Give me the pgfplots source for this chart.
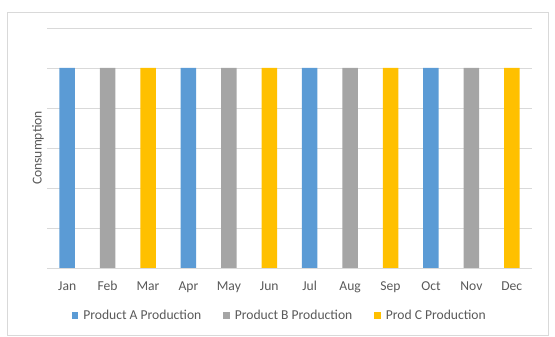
\documentclass[border=0pt]{standalone}
\usepackage{pgfplots}
\pgfplotsset{compat=1.18}
\usepackage{fontspec}
\setmainfont{Carlito}
\definecolor{cA}{HTML}{5B9BD5}
\definecolor{cB}{HTML}{A5A5A5}
\definecolor{cC}{HTML}{FFC000}
\definecolor{gridc}{HTML}{D9D9D9}
\definecolor{txt}{HTML}{595959}
\begin{document}
\begin{tikzpicture}[x=1pt,y=1pt]
\useasboundingbox (0,0) rectangle (555,337);
\draw[gridc, line width=0.8pt] (7,2) rectangle (548,325);
\begin{axis}[
  at={(47pt,69pt)}, anchor=south west,
  scale only axis, width=485pt, height=240pt,
  font=\fontsize{13.6}{16}\selectfont\color{txt},
  xmin=-0.5, xmax=11.5, ymin=0, ymax=6,
  ybar, bar width=15.5pt, bar shift=0pt,
  axis line style={draw=none},
  xtick={0,...,11},
  xticklabels={Jan,Feb,Mar,Apr,May,Jun,Jul,Aug,Sep,Oct,Nov,Dec},
  xticklabel style={yshift=-10pt},
  ytick={0,1,...,6}, yticklabels={},
  major tick length=0pt,
  xmajorgrids=false, ymajorgrids=true,
  y grid style={draw=gridc, line width=0.8pt},
  ylabel={Consumption},
  every axis y label/.style={at={(axis description cs:-0.006,0.5)}, rotate=90, anchor=south, inner sep=0pt},
  legend columns=3,
  legend style={at={(axis description cs:0.48,-0.2)}, anchor=center, draw=none, fill=none,
    font=\fontsize{13.6}{16}\selectfont\color{txt},
    /tikz/every odd column/.append style={column sep=3pt},
    /tikz/every even column/.append style={column sep=20pt}},
  legend image code/.code={\fill[#1] (0pt,-3pt) rectangle (6.5pt,3.5pt);},
]
\addplot[fill=cA, draw=none] coordinates {(0,5) (3,5) (6,5) (9,5)};
\addplot[fill=cB, draw=none] coordinates {(1,5) (4,5) (7,5) (10,5)};
\addplot[fill=cC, draw=none] coordinates {(2,5) (5,5) (8,5) (11,5)};
\legend{Product A Production, Product B Production, Prod C Production}
\end{axis}
\end{tikzpicture}
\end{document}
